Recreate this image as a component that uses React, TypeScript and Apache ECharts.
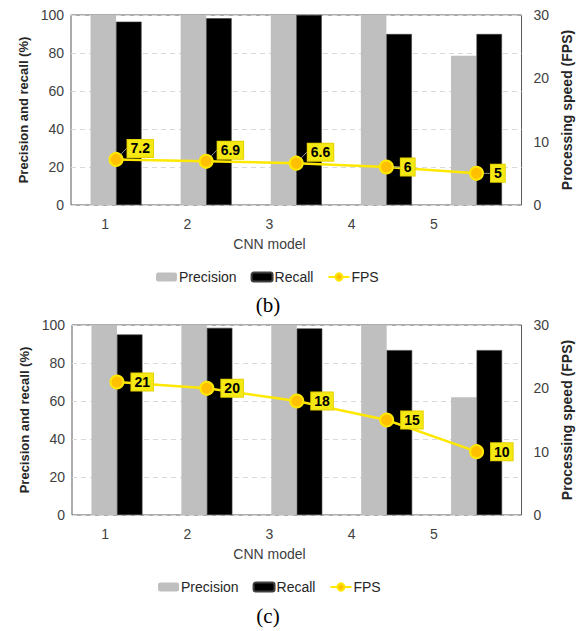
import React, { useEffect, useRef } from "react";
import * as echarts from "echarts";

const categories = ["1", "2", "3", "4", "5"];
const precisionB = [100, 100, 100, 100, 78.5];
const recallB = [96.5, 98.3, 100, 90, 90];
const fpsB = [7.2, 6.9, 6.6, 6, 5];
const precisionC = [100, 100, 100, 100, 62];
const recallC = [95, 98.5, 98.2, 86.8, 86.8];
const fpsC = [21, 20, 18, 15, 10];
const seriesNames = ["Precision", "Recall", "FPS"];
const panelLabels = ["(b)", "(c)"];

const FONT = '"Liberation Sans", Arial, sans-serif';
const GRAY = "#BFBFBF";
const YELLOW = "#FFE800";

function makeLabelStyle() {
  return {
    show: true,
    position: "right" as const,
    distance: 7,
    formatter: "{c}",
    backgroundColor: "#F5E914",
    borderColor: "#E6D200",
    borderWidth: 1,
    padding: [2, 3, 1, 3],
    fontWeight: "bold" as const,
    fontSize: 14,
    color: "#000",
    fontFamily: FONT,
  };
}

export default function App() {
  const ref = useRef<HTMLDivElement>(null);
  useEffect(() => {
    if (!ref.current) return;
    const chart = echarts.init(ref.current, null, { renderer: "svg" });
    const tops = [15, 325];
    const mainLeft = [71, 72];
    const grids: any[] = [];
    const xAxes: any[] = [];
    const yAxes: any[] = [];
    const series: any[] = [];
    const legends: any[] = [];
    const graphics: any[] = [];
    const datasets = [
      { p: precisionB, r: recallB, f: fpsB, lift: true },
      { p: precisionC, r: recallC, f: fpsC, lift: false },
    ];
    datasets.forEach((d, k) => {
      const top = tops[k];
      const gMain = grids.length;
      grids.push({
        left: mainLeft[k],
        top,
        width: 529 - mainLeft[k],
        height: 190,
        show: true,
        borderColor: "#595959",
        borderWidth: 1,
        backgroundColor: "transparent",
        containLabel: false,
      });
      const gLab = grids.length;
      grids.push({ left: 64, top, width: 411, height: 190, show: false, containLabel: false });
      const xMain = xAxes.length;
      xAxes.push({
        gridIndex: gMain,
        type: "category",
        data: categories,
        axisLine: { show: false },
        axisTick: { show: false },
        axisLabel: { show: false },
        splitLine: { show: false },
      });
      xAxes.push({
        gridIndex: gLab,
        type: "category",
        data: categories,
        axisLine: { show: false },
        axisTick: { show: false },
        axisLabel: { show: true, margin: 12, fontSize: 14, color: "#404040", fontFamily: FONT },
        splitLine: { show: false },
        name: "CNN model",
        nameLocation: "middle",
        nameGap: 32,
        nameTextStyle: { fontSize: 14, color: "#404040", fontFamily: FONT },
      });
      const yLeft = yAxes.length;
      yAxes.push({
        gridIndex: gMain,
        type: "value",
        position: "left",
        min: 0,
        max: 100,
        interval: 20,
        axisLine: { show: false },
        axisTick: { show: false },
        axisLabel: { margin: 7, fontSize: 14, color: "#404040", fontFamily: FONT },
        splitLine: { show: true, lineStyle: { color: "#D9D9D9", type: [5, 4], width: 1 } },
        name: "Precision and recall (%)",
        nameLocation: "middle",
        nameGap: 38,
        nameTextStyle: { fontSize: 13, fontWeight: "bold", color: "#262626", fontFamily: FONT },
      });
      const yRight = yAxes.length;
      yAxes.push({
        gridIndex: gMain,
        type: "value",
        position: "right",
        min: 0,
        max: 30,
        interval: 10,
        axisLine: { show: false },
        axisTick: { show: false },
        axisLabel: { margin: 12, fontSize: 14, color: "#404040", fontFamily: FONT },
        splitLine: { show: false },
        name: "Processing speed (FPS)",
        nameLocation: "middle",
        nameGap: 34,
        nameTextStyle: { fontSize: 14, fontWeight: "bold", color: "#262626", fontFamily: FONT },
      });
      yAxes.push({ gridIndex: gLab, type: "value", show: false });
      series.push({
        name: seriesNames[0],
        type: "bar",
        xAxisIndex: xMain,
        yAxisIndex: yLeft,
        data: d.p,
        barWidth: 25.5,
        barGap: "0%",
        itemStyle: { color: GRAY },
      });
      series.push({
        name: seriesNames[1],
        type: "bar",
        xAxisIndex: xMain,
        yAxisIndex: yLeft,
        data: d.r,
        barWidth: 25.5,
        barGap: "0%",
        itemStyle: { color: "#000", borderColor: "#404040", borderWidth: 0.6 },
      });
      series.push({
        name: seriesNames[2],
        type: "line",
        xAxisIndex: xMain,
        yAxisIndex: yRight,
        data: d.f,
        symbol: "circle",
        symbolSize: 13,
        z: 5,
        lineStyle: { color: YELLOW, width: 2.5 },
        itemStyle: { color: "#FFC000", borderColor: YELLOW, borderWidth: 2 },
        label: makeLabelStyle(),
        labelLayout: d.lift
          ? (params: any) => (params.dataIndex < 3 ? { dy: -11, dx: -3 } : {})
          : undefined,
        labelLine: d.lift
          ? { show: true, lineStyle: { color: "#8C8C8C", width: 1 } }
          : { show: false },
      });
      legends.push({
        data: seriesNames,
        top: k === 0 ? 270 : 580,
        left: "center",
        itemWidth: 21,
        itemHeight: 9,
        itemGap: 14,
        padding: [0, 0, 0, 0],
        textStyle: { fontSize: 14, color: "#262626", fontFamily: FONT, padding: [0, 0, 0, -3] },
        selectedMode: false,
        z: 10,
      });
      graphics.push({
        type: "text",
        x: 268,
        y: k === 0 ? 305 : 616,
        style: {
          text: panelLabels[k],
          fontSize: 21,
          fontFamily: '"Liberation Serif", "Times New Roman", serif',
          fill: "#000",
          align: "center",
          verticalAlign: "middle",
        },
      });
    });
    legends[0].left = 156;
    legends[1].left = 158;
    chart.setOption({
      animation: false,
      backgroundColor: "#fff",
      grid: grids,
      xAxis: xAxes,
      yAxis: yAxes,
      series,
      legend: legends,
      graphic: graphics,
    });
    return () => chart.dispose();
  }, []);
  return (
    <div
      ref={ref}
      style={{ position: "fixed", left: 0, top: 0, width: 582, height: 631 }}
    />
  );
}
